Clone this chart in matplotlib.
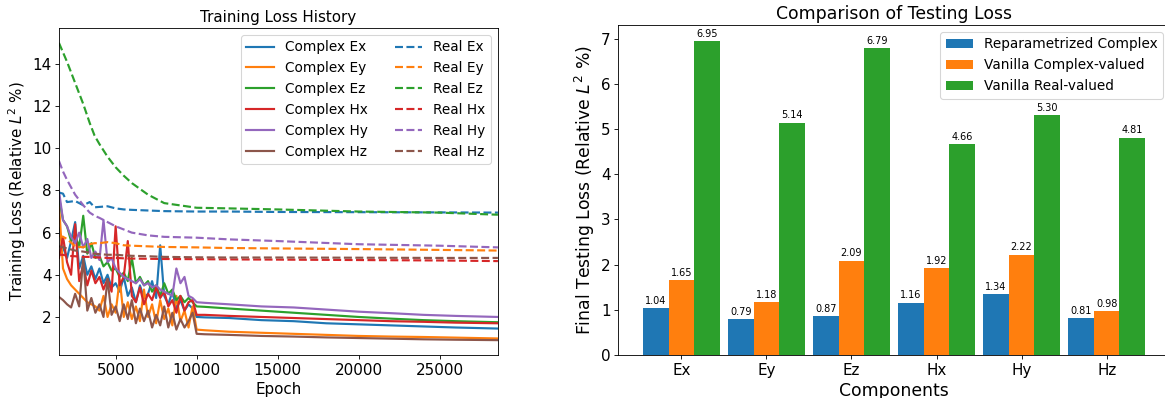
import numpy as np
import matplotlib
matplotlib.use("Agg")
import matplotlib.pyplot as plt

# ---- left panel: training loss history ----
# epochs of the complex-valued runs (noisy phase, then smooth phase after lr drop)
epochs_complex = [1500, 1750, 2000, 2250, 2500, 2750, 3000, 3250, 3500, 3750,
                  4000, 4250, 4500, 4750, 5000, 5250, 5500, 5750, 6000, 6250,
                  6500, 6750, 7000, 7250, 7500, 7750, 8000, 8250, 8500, 8750,
                  9000, 9250, 9500, 9750,
                  10000, 10500, 12000, 14000, 16000, 18000, 20000, 22000,
                  24000, 26000, 28600]

complex_ex = [6.2, 5.3, 4.8, 5.6, 6.5, 4.3, 4.9, 4.0, 4.4, 3.8,
              4.3, 3.6, 4.0, 3.4, 3.6, 3.2, 3.9, 3.0, 3.4, 2.7,
              3.5, 2.9, 3.1, 3.7, 2.9, 5.4, 3.0, 2.6, 3.2, 2.4,
              2.8, 2.3, 2.6, 2.4,
              2.0, 1.98, 1.95, 1.85, 1.8, 1.7, 1.65, 1.6, 1.55, 1.5, 1.45]
complex_ey = [7.4, 4.3, 3.8, 3.5, 3.3, 3.1, 2.9, 2.7, 2.6, 2.5,
              2.3, 3.0, 2.0, 2.6, 2.2, 3.8, 2.0, 2.7, 1.9, 2.5,
              1.8, 3.3, 2.0, 2.6, 1.7, 2.8, 1.9, 2.4, 1.6, 3.0,
              1.8, 2.3, 1.5, 2.5,
              1.4, 1.37, 1.3, 1.25, 1.2, 1.15, 1.1, 1.07, 1.05, 1.02, 0.98]
complex_ez = [7.7, 6.6, 6.3, 5.6, 5.9, 5.3, 6.8, 5.0, 5.5, 4.8,
              4.9, 4.4, 4.6, 4.2, 4.3, 3.9, 4.1, 3.7, 4.8, 3.6,
              3.9, 3.5, 3.7, 3.2, 3.5, 3.0, 3.6, 3.1, 3.3, 2.8,
              3.0, 2.7, 2.9, 2.7,
              2.5, 2.48, 2.4, 2.3, 2.2, 2.1, 2.0, 1.92, 1.85, 1.8, 1.75]
complex_hx = [4.8, 5.8, 4.6, 4.0, 6.4, 3.7, 4.5, 3.5, 4.2, 3.6,
              3.9, 3.3, 3.8, 3.2, 6.3, 3.5, 3.9, 5.6, 3.0, 2.7,
              3.4, 2.6, 3.1, 2.8, 3.4, 2.9, 3.2, 2.5, 2.8, 2.2,
              3.0, 2.3, 2.7, 2.8,
              2.1, 2.1, 2.05, 2.0, 1.95, 1.9, 1.85, 1.8, 1.77, 1.73, 1.7]
complex_hy = [8.0, 6.6, 6.3, 5.8, 5.5, 6.0, 5.3, 5.7, 4.8, 5.1,
              4.7, 6.6, 4.6, 4.8, 4.3, 4.1, 3.9, 3.8, 3.7, 3.6,
              3.8, 3.5, 3.6, 3.4, 3.5, 3.3, 3.2, 3.1, 3.0, 4.3,
              3.6, 3.9, 3.0, 2.9,
              2.7, 2.67, 2.6, 2.5, 2.45, 2.35, 2.25, 2.18, 2.1, 2.05, 2.0]
complex_hz = [2.95, 2.8, 2.6, 2.45, 3.1, 2.5, 4.8, 2.3, 2.9, 2.2,
              2.6, 2.0, 3.8, 2.1, 2.5, 1.8, 2.6, 1.9, 2.8, 1.7,
              2.4, 1.8, 2.3, 1.5, 2.1, 1.6, 2.5, 1.5, 2.2, 1.4,
              1.9, 1.5, 1.8, 2.2,
              1.2, 1.18, 1.15, 1.1, 1.07, 1.03, 1.0, 0.97, 0.94, 0.92, 0.9]

# epochs of the real-valued runs
epochs_real = [1500, 1750, 2000, 2500, 3000, 3400, 3700, 4000, 4500, 5000,
               5500, 6000, 7000, 8000, 10000, 12000, 15000, 20000, 25000, 28600]

real_ex = [7.9, 7.85, 7.45, 7.5, 7.3, 7.45, 7.2, 7.22, 7.25, 7.15,
           7.1, 7.08, 7.05, 7.02, 7.0, 7.0, 6.98, 6.97, 6.96, 6.95]
real_ey = [5.85, 5.8, 5.7, 5.35, 5.3, 5.45, 5.5, 5.5, 5.55, 5.5,
           5.4, 5.38, 5.35, 5.32, 5.3, 5.27, 5.25, 5.22, 5.18, 5.15]
real_ez = [15.0, 14.55, 14.1, 13.1, 12.1, 11.2, 10.6, 10.2, 9.6, 9.1,
           8.7, 8.35, 7.8, 7.4, 7.18, 7.15, 7.1, 7.0, 6.95, 6.85]
real_hx = [4.95, 4.95, 4.9, 4.88, 4.85, 4.85, 4.83, 4.82, 4.8, 4.8,
           4.78, 4.77, 4.76, 4.75, 4.74, 4.73, 4.72, 4.7, 4.68, 4.65]
real_hy = [9.4, 8.9, 8.5, 7.8, 7.3, 6.95, 6.8, 6.7, 6.5, 6.3,
           6.15, 6.0, 5.87, 5.8, 5.76, 5.68, 5.6, 5.45, 5.38, 5.3]
real_hz = [5.35, 5.3, 5.25, 5.15, 5.1, 5.05, 5.0, 4.98, 4.95, 4.95,
           4.92, 4.9, 4.88, 4.85, 4.83, 4.82, 4.82, 4.81, 4.8, 4.8]

# ---- right panel: final testing loss ----
components = ['Ex', 'Ey', 'Ez', 'Hx', 'Hy', 'Hz']
reparam_complex = [1.04, 0.79, 0.87, 1.16, 1.34, 0.81]
vanilla_complex = [1.65, 1.18, 2.09, 1.92, 2.22, 0.98]
vanilla_real = [6.95, 5.14, 6.79, 4.66, 5.30, 4.81]


DPI = 77.67
fig = plt.figure(figsize=(1165 / DPI, 398 / DPI), dpi=DPI)
ax1 = fig.add_axes([0.0506, 0.108, 0.3768, 0.8216])
ax2 = fig.add_axes([0.5305, 0.108, 0.4738, 0.829])

complex_runs = [complex_ex, complex_ey, complex_ez, complex_hx, complex_hy, complex_hz]
real_runs = [real_ex, real_ey, real_ez, real_hx, real_hy, real_hz]

for i, (name, vals) in enumerate(zip(components, complex_runs)):
    ax1.plot(epochs_complex, vals, color=f'C{i}', linewidth=2, label=f'Complex {name}')
for i, (name, vals) in enumerate(zip(components, real_runs)):
    ax1.plot(epochs_real, vals, color=f'C{i}', linewidth=2, linestyle='--', label=f'Real {name}')

ax1.set_xlim(epochs_complex[0], epochs_complex[-1])
ax1.set_xlabel('Epoch', fontsize=14)
ax1.set_ylabel('Training Loss (Relative $L^2$ %)', fontsize=14)
ax1.set_title('Training Loss History', fontsize=14)
ax1.tick_params(labelsize=14)
ax1.legend(ncol=2, loc='upper right', fontsize=12.7)

# grouped bars
x = np.arange(len(components))
width = 0.3
b1 = ax2.bar(x - width, reparam_complex, width, label='Reparametrized Complex')
b2 = ax2.bar(x, vanilla_complex, width, label='Vanilla Complex-valued')
b3 = ax2.bar(x + width, vanilla_real, width, label='Vanilla Real-valued')
for bars in (b1, b2, b3):
    ax2.bar_label(bars, fmt='%.2f', padding=2, fontsize=9)

ax2.set_xticks(x)
ax2.set_xticklabels(components)
ax2.set_xlabel('Components', fontsize=16)
ax2.set_ylabel('Final Testing Loss (Relative $L^2$ %)', fontsize=16)
ax2.set_title('Comparison of Testing Loss', fontsize=16)
ax2.tick_params(labelsize=14)
ax2.legend(loc='upper right', fontsize=12.7)

fig.savefig('out.png', dpi=DPI)
